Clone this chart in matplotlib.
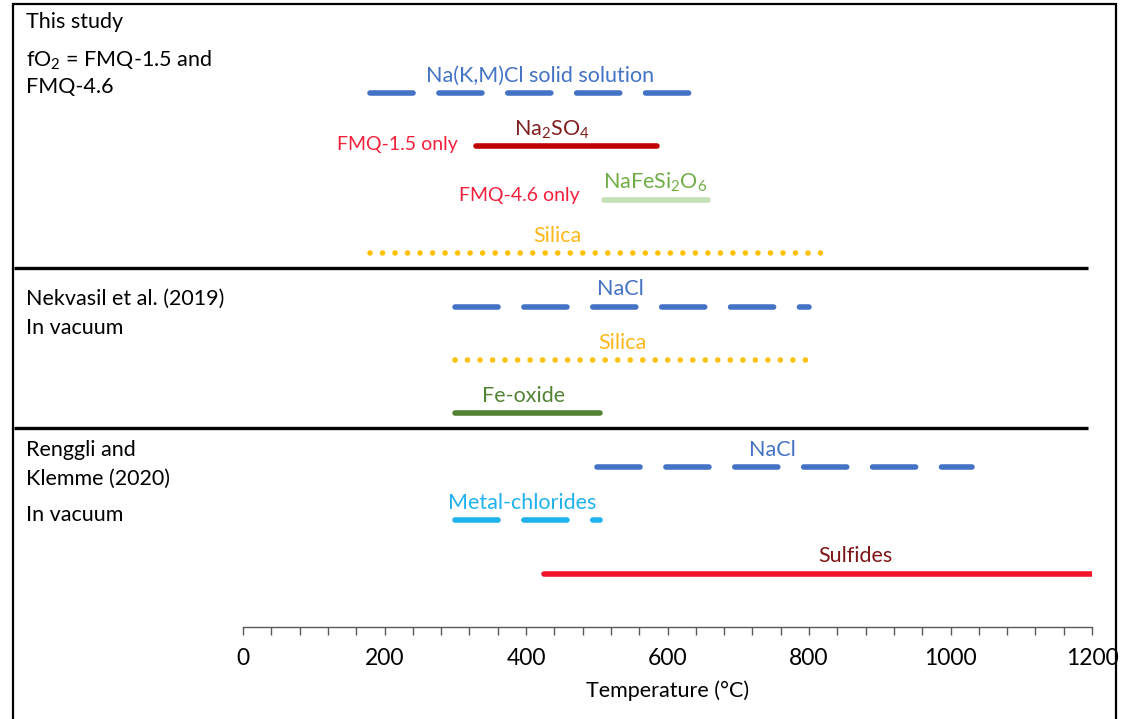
import matplotlib
matplotlib.use("Agg")
import matplotlib.pyplot as plt
from matplotlib.patches import Rectangle

plt.rcParams['font.family'] = ['Lato', 'DejaVu Sans']
plt.rcParams['lines.scale_dashes'] = False
plt.rcParams['mathtext.fontset'] = 'custom'
plt.rcParams['mathtext.rm'] = 'Lato'
plt.rcParams['mathtext.it'] = 'Lato:italic'
plt.rcParams['mathtext.bf'] = 'Lato:bold'

# ---- data ----
phases = ["Na(K,M)Cl solid solution", "Na$_2$SO$_4$", "NaFeSi$_2$O$_6$", "Silica",
          "NaCl", "Silica", "Fe-oxide",
          "NaCl", "Metal-chlorides", "Sulfides"]
t_start = [180, 330, 510, 180, 300, 300, 300, 500, 300, 425]
t_end = [635, 585, 657, 820, 800, 800, 505, 1030, 505, 1200]
rows = [0, 1, 2, 3, 4, 5, 6, 7, 8, 9]
label_x = [420, 437, 582, 445, 533, 536, 396, 748, 394, 865]
styles = ["dash", "solid", "solid", "dot", "dash", "dot", "solid", "dash", "dash", "solid"]
line_colors = ["#4472C4", "#C00000", "#C5E0B4", "#FFC000", "#4472C4", "#FFC000",
               "#548235", "#4472C4", "#1FB2EE", "#F2142A"]
text_colors = ["#4472C4", "#7F1F1F", "#70AD47", "#FFB81C", "#4472C4", "#FFB81C",
               "#548235", "#4472C4", "#1FB2EE", "#7F1717"]

notes = ["FMQ-1.5 only", "FMQ-4.6 only"]
note_x = [304, 476]
note_rows = [0.97, 1.91]

group_texts = ["This study", "fO$_2$ = FMQ-1.5 and", "FMQ-4.6",
               "Nekvasil et al. (2019)", "In vacuum",
               "Renggli and", "Klemme (2020)", "In vacuum"]
group_rows = [-1.33, -0.62, -0.11, 3.86, 4.40, 6.69, 7.23, 7.90]
dividers = [3.28, 6.27]

xticks = [0, 200, 400, 600, 800, 1000, 1200]

# ---- figure ----
W, H = 1122, 719
fig = plt.figure(figsize=(W / 100, H / 100), dpi=100)
ax = fig.add_axes([243 / W, (H - 627) / H, (1092 - 243) / W, (627 - 5) / H])
ax.set_xlim(0, 1200)
ax.set_ylim(10, -1.65)

x_left = -307
for name, s, e, r, lx, st, lc, tc in zip(phases, t_start, t_end, rows, label_x,
                                         styles, line_colors, text_colors):
    kw = dict(color=lc, lw=4.0, solid_capstyle='round', dash_capstyle='round')
    if st == "dash":
        ax.plot([s, e], [r, r], linestyle=(0, (31, 18.6)), **kw)
    elif st == "dot":
        ax.plot([s, e], [r, r], linestyle=(0, (0.01, 9.0)), **kw)
    else:
        ax.plot([s, e], [r, r], linestyle='-', **kw)
    ax.text(lx, r - 0.21, name, color=tc, fontsize=15.5, ha='center', va='baseline')

for n, nx, nr in zip(notes, note_x, note_rows):
    ax.text(nx, nr, n, color="#F2203B", fontsize=14, ha='right', va='center')

for t, r in zip(group_texts, group_rows):
    ax.text(x_left, r, t, color='black', fontsize=15.5, ha='left', va='center', clip_on=False)

for d in dividers:
    ax.plot([-324, 1194], [d, d], color='black', lw=2.4, clip_on=False,
            solid_capstyle='butt')

for sp in ['left', 'top', 'right']:
    ax.spines[sp].set_visible(False)
ax.spines['bottom'].set_color('#595959')
ax.spines['bottom'].set_linewidth(1.0)
ax.set_yticks([])
ax.set_xticks(xticks)
ax.set_xticks(range(0, 1201, 40), minor=True)
ax.tick_params(axis='x', which='both', direction='out', length=6, width=1.0,
               color='#595959', labelsize=16.5, pad=9)
ax.set_xlabel("Temperature (°C)", fontsize=15.5, labelpad=8)

fig.patches.append(Rectangle((13 / W, -0.02), (1116 - 13) / W, (H - 4) / H + 0.02,
                             transform=fig.transFigure, fill=False,
                             edgecolor='black', lw=1.6))

fig.savefig("out.png", dpi=100)
